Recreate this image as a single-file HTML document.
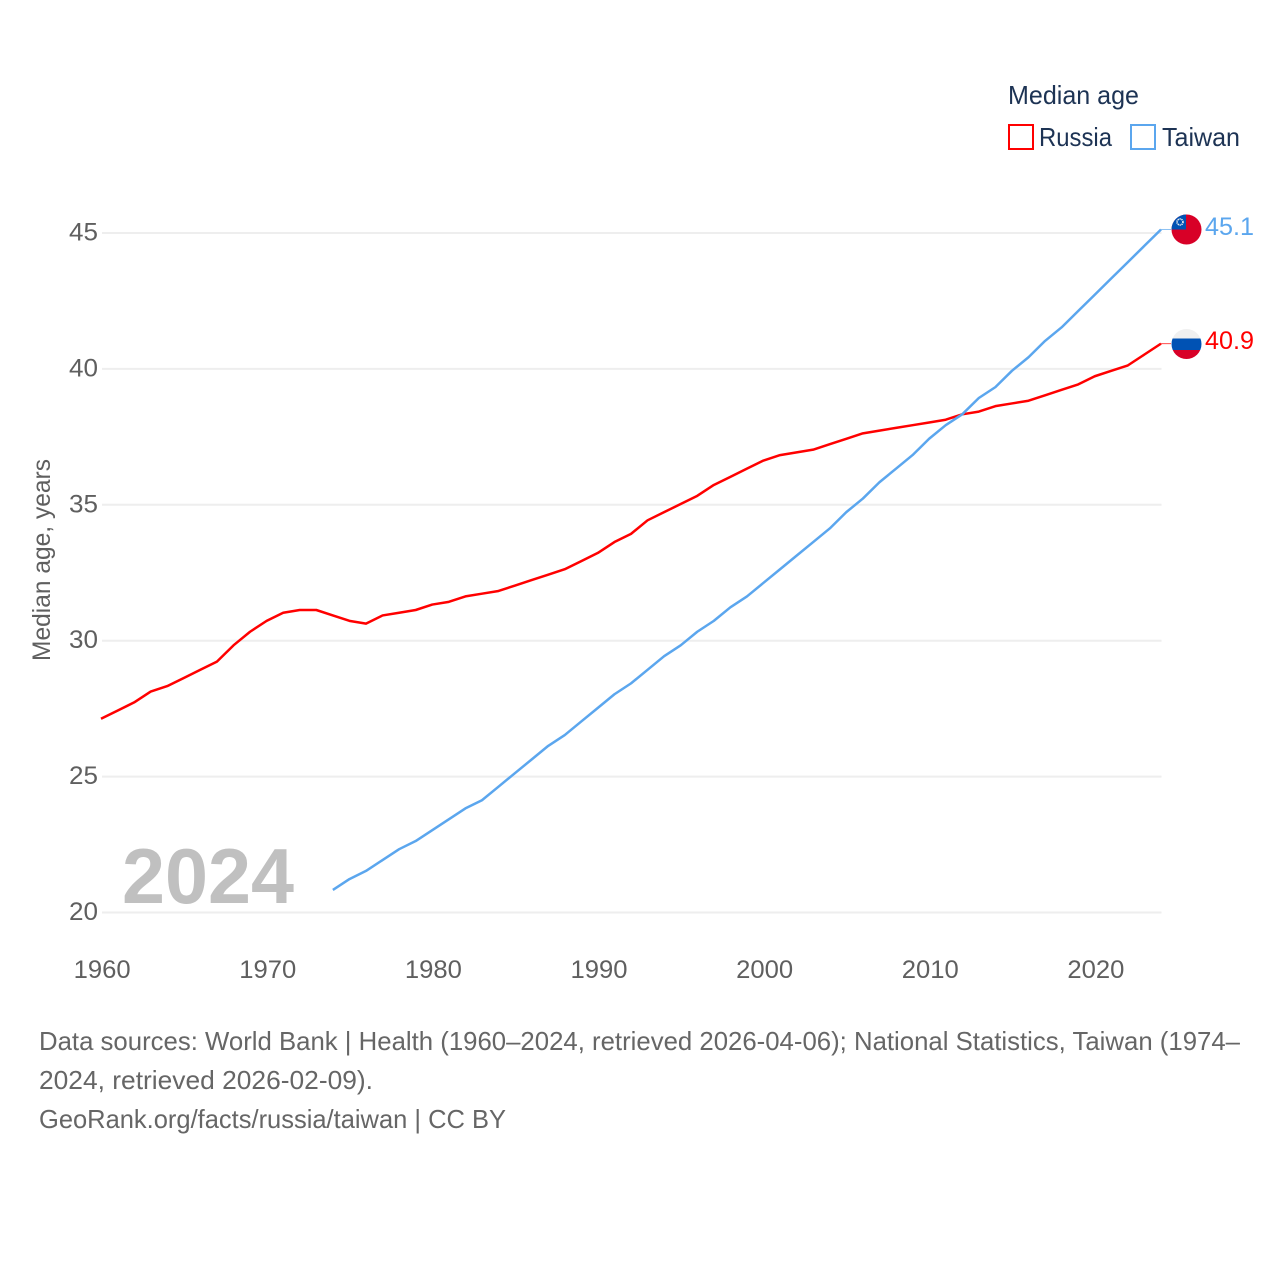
<!DOCTYPE html>
<html>
<head>
<meta charset="utf-8">
<title>Median age: Russia and Taiwan</title>
<style>
html,body{margin:0;padding:0;background:#fff;width:1280px;height:1280px;overflow:hidden}
svg{display:block}
text{font-family:"Liberation Sans",sans-serif}
</style>
</head>
<body>
<svg id="chart" xmlns="http://www.w3.org/2000/svg" width="1280" height="1280" viewBox="0 0 1280 1280">
  <defs>
    <clipPath id="flag-clip-tw"><circle cx="1186.5" cy="229.5" r="15"/></clipPath>
    <clipPath id="flag-clip-ru"><circle cx="1186.5" cy="344" r="15"/></clipPath>
  </defs>
  <rect width="1280" height="1280" fill="#fff"/>

  <g>
    <text x="1008" y="104" font-size="26" fill="#1d3354" textLength="131" lengthAdjust="spacingAndGlyphs">Median age</text>
    <g>
      <rect x="1009" y="125" width="24" height="24" fill="#fff" stroke="#ff0000" stroke-width="2"/>
      <text x="1039" y="146" font-size="26" fill="#1d3354" textLength="73" lengthAdjust="spacingAndGlyphs">Russia</text>
    </g>
    <g>
      <rect x="1131" y="125" width="24" height="24" fill="#fff" stroke="#5ba6ee" stroke-width="2"/>
      <text x="1162" y="146" font-size="26" fill="#1d3354" textLength="78" lengthAdjust="spacingAndGlyphs">Taiwan</text>
    </g>
  </g>

  <g id="grid"></g>
  <g id="yticks"></g>
  <g id="xticks"></g>

  <text transform="translate(50,560) rotate(-90)" text-anchor="middle" font-size="25" fill="#5f5f5f" textLength="202" lengthAdjust="spacingAndGlyphs">Median age, years</text>

  <text x="122" y="903" font-size="78" font-weight="700" fill="#c0c0c0" textLength="172" lengthAdjust="spacingAndGlyphs">2024</text>

  <g id="series"></g>

  <g clip-path="url(#flag-clip-tw)">
    <rect x="1171" y="214" width="31" height="31" fill="#d80027"/>
    <rect x="1171" y="214" width="15" height="15.5" fill="#0052b4"/>
    <circle cx="1180" cy="222" r="3" fill="#0052b4" stroke="#f0f0f0" stroke-width="1.6" stroke-dasharray="1.2 0.7"/>
  </g>
  <g clip-path="url(#flag-clip-ru)">
    <rect x="1171" y="329" width="31" height="10" fill="#f0f0f0"/>
    <rect x="1171" y="338.5" width="31" height="11.5" fill="#0052b4"/>
    <rect x="1171" y="350" width="31" height="10" fill="#d80027"/>
  </g>

  <text id="val-tw" x="1205" y="235" font-size="25" fill="#5ba6ee" textLength="49" lengthAdjust="spacingAndGlyphs"></text>
  <text id="val-ru" x="1205" y="349" font-size="25" fill="#ff0000" textLength="49" lengthAdjust="spacingAndGlyphs"></text>

  <g font-size="26" fill="#666666">
    <text x="39" y="1050" textLength="1201" lengthAdjust="spacingAndGlyphs">Data sources: World Bank | Health (1960–2024, retrieved 2026-04-06); National Statistics, Taiwan (1974–</text>
    <text x="39" y="1089" textLength="334" lengthAdjust="spacingAndGlyphs">2024, retrieved 2026-02-09).</text>
    <text x="39" y="1128" textLength="467" lengthAdjust="spacingAndGlyphs">GeoRank.org/facts/russia/taiwan | CC BY</text>
  </g>
</svg>
<script>
const yTickValues = [20, 25, 30, 35, 40, 45];
const xTickValues = [1960, 1970, 1980, 1990, 2000, 2010, 2020];
const russiaStartYear = 1960;
const russiaValues = [27.1,27.4,27.7,28.1,28.3,28.6,28.9,29.2,29.8,30.3,30.7,31.0,31.1,31.1,30.9,30.7,30.6,30.9,31.0,31.1,31.3,31.4,31.6,31.7,31.8,32.0,32.2,32.4,32.6,32.9,33.2,33.6,33.9,34.4,34.7,35.0,35.3,35.7,36.0,36.3,36.6,36.8,36.9,37.0,37.2,37.4,37.6,37.7,37.8,37.9,38.0,38.1,38.3,38.4,38.6,38.7,38.8,39.0,39.2,39.4,39.7,39.9,40.1,40.5,40.9];
const taiwanStartYear = 1974;
const taiwanValues = [20.8,21.2,21.5,21.9,22.3,22.6,23.0,23.4,23.8,24.1,24.6,25.1,25.6,26.1,26.5,27.0,27.5,28.0,28.4,28.9,29.4,29.8,30.3,30.7,31.2,31.6,32.1,32.6,33.1,33.6,34.1,34.7,35.2,35.8,36.3,36.8,37.4,37.9,38.3,38.9,39.3,39.9,40.4,41.0,41.5,42.1,42.7,43.3,43.9,44.5,45.1];

const NS = 'http://www.w3.org/2000/svg';
function xScale(year) { return 101 + (year - 1960) * (1161 - 101) / 64; }
function yScale(v) { return 912.5 - (v - 20) * (912.5 - 233) / 25; }
function make(tag, attrs, parent) {
  const el = document.createElementNS(NS, tag);
  for (const k in attrs) el.setAttribute(k, attrs[k]);
  parent.appendChild(el);
  return el;
}

const grid = document.getElementById('grid');
const yticks = document.getElementById('yticks');
yTickValues.forEach(function (v) {
  const line = make('line', {x1: 102, x2: 1161.5, y1: yScale(v), y2: yScale(v), stroke: '#eeeeee', 'stroke-width': 2}, grid);
  
  
  const t = make('text', {x: 98, y: yScale(v) + 7.5, 'text-anchor': 'end', 'font-size': 25, fill: '#5f5f5f', textLength: 29, lengthAdjust: 'spacingAndGlyphs'}, yticks);
  
  
  t.textContent = v;
});

const xticks = document.getElementById('xticks');
xTickValues.forEach(function (year) {
  const t = make('text', {x: xScale(year) + 1.2, y: 978, 'text-anchor': 'middle', 'font-size': 25, fill: '#5f5f5f', textLength: 57, lengthAdjust: 'spacingAndGlyphs'}, xticks);
  
  
  t.textContent = year;
});

const lineYShift = -0.8;
function pathFor(values, startYear) {
  return values.map(function (v, i) {
    return (i ? 'L' : 'M') + xScale(startYear + i).toFixed(2) + ' ' + (yScale(v) + lineYShift).toFixed(2);
  }).join(' ');
}
const series = document.getElementById('series');

const russiaLine = make('path', {d: pathFor(russiaValues, russiaStartYear), fill: 'none', stroke: '#ff0000', 'stroke-width': 2.5, 'stroke-linejoin': 'round'}, series);



const taiwanLine = make('path', {d: pathFor(taiwanValues, taiwanStartYear), fill: 'none', stroke: '#5ba6ee', 'stroke-width': 2.5, 'stroke-linejoin': 'round'}, series);



const russiaLast = russiaValues[russiaValues.length - 1];
const taiwanLast = taiwanValues[taiwanValues.length - 1];

const russiaConnector = make('line', {x1: 1161, x2: 1171, y1: yScale(russiaLast) + lineYShift, y2: yScale(russiaLast) + lineYShift, stroke: '#ff0000', 'stroke-width': 1, opacity: 0.7}, series);



const taiwanConnector = make('line', {x1: 1161, x2: 1171, y1: yScale(taiwanLast) + lineYShift, y2: yScale(taiwanLast) + lineYShift, stroke: '#5ba6ee', 'stroke-width': 1, opacity: 0.7}, series);



document.getElementById('val-tw').textContent = taiwanLast.toFixed(1);
document.getElementById('val-ru').textContent = russiaLast.toFixed(1);
</script>
</body>
</html>
